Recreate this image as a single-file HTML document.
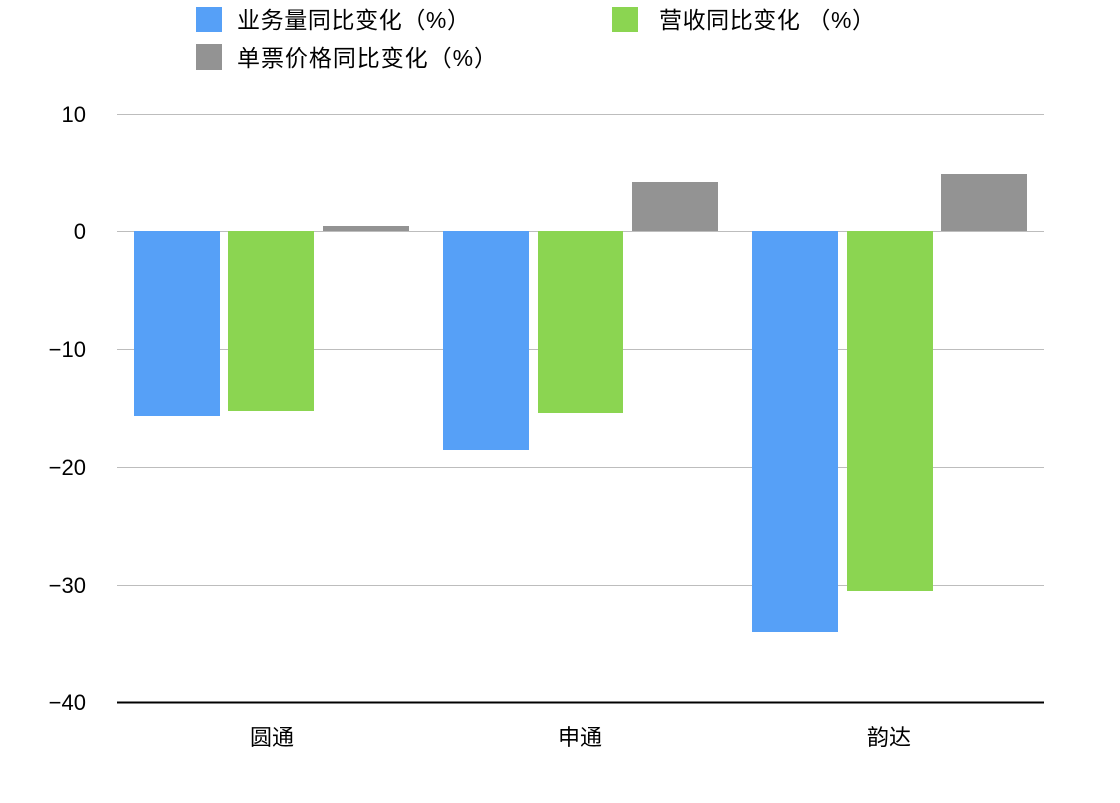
<!DOCTYPE html>
<html><head><meta charset="utf-8"><style>
body{margin:0;background:#fff;}
text{font-family:"Liberation Sans","Noto Sans CJK SC",sans-serif;fill:#000;}
</style></head><body>
<svg width="1120" height="798" xmlns="http://www.w3.org/2000/svg">
<rect width="1120" height="798" fill="#fff"/>
<g stroke="#bdbdbd" stroke-width="1">
<line x1="117" y1="114.5" x2="1044" y2="114.5"/>
<line x1="117" y1="231.5" x2="1044" y2="231.5"/>
<line x1="117" y1="349.5" x2="1044" y2="349.5"/>
<line x1="117" y1="467.5" x2="1044" y2="467.5"/>
<line x1="117" y1="585.5" x2="1044" y2="585.5"/>
</g>
<g fill="#56a0f7">
<rect x="134" y="231" width="86" height="185"/>
<rect x="443" y="231" width="86" height="219"/>
<rect x="752" y="231" width="86" height="401"/>
</g>
<g fill="#8bd551">
<rect x="228" y="231" width="86" height="180"/>
<rect x="538" y="231" width="85" height="182"/>
<rect x="847" y="231" width="86" height="360"/>
</g>
<g fill="#939393">
<rect x="323" y="226" width="86" height="5"/>
<rect x="632" y="182" width="86" height="49"/>
<rect x="941" y="174" width="86" height="57"/>
</g>
<line x1="117" y1="702.5" x2="1044" y2="702.5" stroke="#000" stroke-width="2"/>
<g font-size="22" text-anchor="end">
<text x="86" y="122">10</text>
<text x="86" y="239">0</text>
<text x="86" y="357">−10</text>
<text x="86" y="475">−20</text>
<text x="86" y="593">−30</text>
<text x="86" y="710">−40</text>
</g>
<g font-size="22" text-anchor="middle">
<text x="272" y="745">圆通</text>
<text x="580" y="745">申通</text>
<text x="889" y="745">韵达</text>
</g>
<rect x="196" y="7" width="26" height="25" fill="#56a0f7"/>
<text x="237" y="28" font-size="23" textLength="233" lengthAdjust="spacing">业务量同比变化（%）</text>
<rect x="612" y="7" width="26" height="25" fill="#8bd551"/>
<text x="659" y="28" font-size="23" textLength="216" lengthAdjust="spacing">营收同比变化 （%）</text>
<rect x="196" y="44" width="26" height="26" fill="#939393"/>
<text x="237" y="66" font-size="23" textLength="260" lengthAdjust="spacing">单票价格同比变化（%）</text>
</svg>
</body></html>
